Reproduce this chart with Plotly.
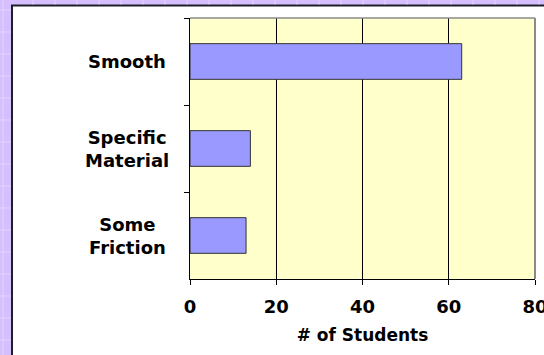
import plotly.graph_objects as go

categories = ["Smooth", "Specific Material", "Some Friction"]
label_lines = ["Smooth", "Specific<br>Material", "Some<br>Friction"]
students = [63, 14, 13]
x_ticks = [0, 20, 40, 60, 80]

W, H = 544, 355
L, R, T, B = 190, 9, 18, 76
pw, ph = W - L - R, H - T - B

def px(xp):
    return (xp - L) / pw

def py(yp):
    return (H - B - yp) / ph

FONT = "DejaVu Sans, Verdana, sans-serif"

fig = go.Figure()
fig.add_trace(go.Bar(
    x=students, y=categories, orientation="h", width=0.41,
    marker=dict(color="#9999FF", line=dict(color="#333333", width=1)),
    hoverinfo="x+y",
))

shapes = []
# white panel with dark border
shapes.append(dict(type="rect", xref="paper", yref="paper",
                   x0=px(12), x1=px(700), y0=py(500), y1=py(5.5),
                   fillcolor="white", line=dict(color="#1e1e2a", width=2), layer="below"))
# plot area background
shapes.append(dict(type="rect", xref="paper", yref="paper", x0=0, x1=1, y0=0, y1=1,
                   fillcolor="#FFFFCC", line=dict(width=0), layer="below"))
# faint grid on the purple frame
for gy in range(10, 356, 22):
    shapes.append(dict(type="line", xref="paper", yref="paper",
                       x0=px(0), x1=px(11), y0=py(gy), y1=py(gy),
                       line=dict(color="#E2D4FF", width=1), layer="below"))
for gx in range(33, 545, 22):
    shapes.append(dict(type="line", xref="paper", yref="paper",
                       x0=px(gx), x1=px(gx), y0=py(0), y1=py(4.5),
                       line=dict(color="#E2D4FF", width=1), layer="below"))
shapes.append(dict(type="line", xref="paper", yref="paper",
                   x0=px(3), x1=px(3), y0=py(0), y1=py(355),
                   line=dict(color="#E2D4FF", width=1), layer="below"))
# plot area top/right border (gray)
shapes.append(dict(type="line", xref="paper", yref="paper", x0=0, x1=1, y0=1, y1=1,
                   line=dict(color="#8a8a8a", width=1.5), layer="above"))
shapes.append(dict(type="line", xref="paper", yref="paper", x0=1, x1=1, y0=0, y1=1,
                   line=dict(color="#8a8a8a", width=2), layer="above"))

annotations = []
for cat, lab in zip(categories, label_lines):
    annotations.append(dict(
        x=px(127), xref="paper", y=cat, yref="y", text=lab, showarrow=False,
        xanchor="center", yanchor="middle", align="center",
        font=dict(family=FONT, size=18, color="black", weight="bold"),
    ))

fig.update_layout(
    width=W, height=H,
    margin=dict(l=L, r=R, t=T, b=B, pad=0, autoexpand=False),
    paper_bgcolor="#D5BFFF",
    plot_bgcolor="#FFFFCC",
    showlegend=False,
    shapes=shapes,
    annotations=annotations,
    bargap=0.59,
    xaxis=dict(
        range=[0, 80], tickmode="array", tickvals=x_ticks, automargin=False,
        ticks="outside", ticklen=5, tickcolor="black", tickwidth=1,
        showline=True, linecolor="black", linewidth=1,
        showgrid=True, gridcolor="black", gridwidth=1, zeroline=False,
        tickfont=dict(family=FONT, size=18, color="black", weight="bold"),
        ticklabelstandoff=6, ticklabeloverflow="allow",
        title=dict(text="# of Students", standoff=13,
                   font=dict(family=FONT, size=17, color="black", weight="bold")),
    ),
    yaxis=dict(
        type="category", categoryorder="array", categoryarray=categories,
        autorange="reversed", tickson="boundaries", automargin=False,
        showticklabels=False, ticks="outside", ticklen=5, tickcolor="black",
        showline=True, linecolor="black", linewidth=1,
        showgrid=False, zeroline=False,
    ),
)

fig.write_html("out.html")
